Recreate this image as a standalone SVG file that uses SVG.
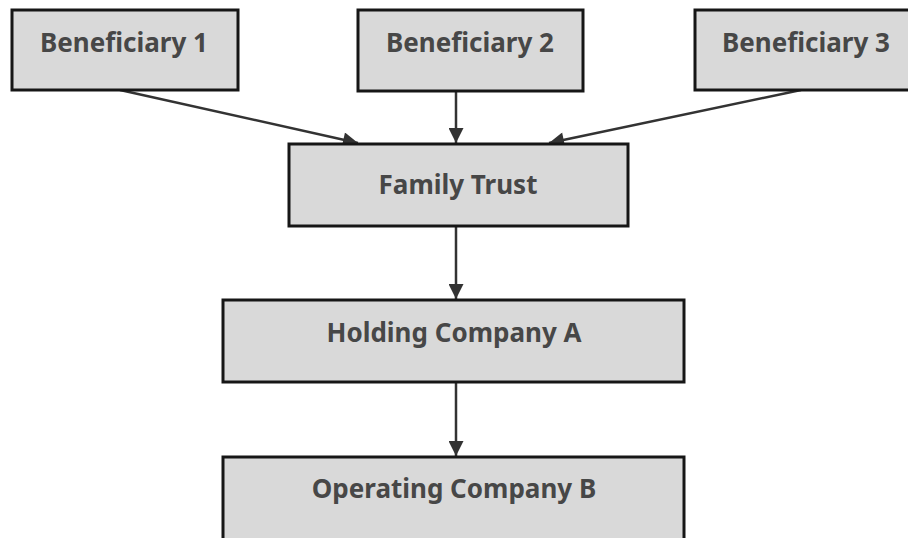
<svg xmlns="http://www.w3.org/2000/svg" width="908" height="538" viewBox="0 0 908 538">
<style>
.box{fill:#d9d9d9;stroke:#161616;stroke-width:3}
.lbl{font-family:"Noto Sans","Open Sans",sans-serif;font-weight:bold;font-size:26px;fill:#474747;text-anchor:middle}
.con{stroke:#333;stroke-width:2.5;fill:none;marker-end:url(#ah)}
</style>
<defs>
<marker id="ah" viewBox="0 0 10 10" refX="10" refY="5" markerWidth="6.5" markerHeight="6" orient="auto" markerUnits="strokeWidth">
<path d="M0,0 L10,5 L0,10 z" fill="#333"/>
</marker>
</defs>
<rect width="908" height="538" fill="#fff"/>
<g id="connectors">
<line class="con" x1="120" y1="90" x2="358" y2="143"/>
<line class="con" x1="456" y1="91" x2="456" y2="143"/>
<line class="con" x1="801" y1="90" x2="549" y2="143"/>
<line class="con" x1="456" y1="226" x2="456" y2="299"/>
<line class="con" x1="456" y1="382" x2="456" y2="456"/>
</g>
<g id="beneficiary1">
<rect class="box" x="12" y="10" width="226" height="80"/>
<text class="lbl" x="124" y="52">Beneficiary 1</text>
</g>
<g id="beneficiary2">
<rect class="box" x="358" y="10" width="225" height="81"/>
<text class="lbl" x="470" y="52">Beneficiary 2</text>
</g>
<g id="beneficiary3">
<rect class="box" x="695" y="10" width="223" height="80"/>
<text class="lbl" x="806" y="52">Beneficiary 3</text>
</g>
<g id="family-trust">
<rect class="box" x="289" y="144" width="339" height="82"/>
<text class="lbl" x="458" y="194">Family Trust</text>
</g>
<g id="holding-company-a">
<rect class="box" x="223" y="300" width="461" height="82"/>
<text class="lbl" x="454" y="342">Holding Company A</text>
</g>
<g id="operating-company-b">
<rect class="box" x="223" y="457" width="461" height="90"/>
<text class="lbl" x="454" y="498">Operating Company B</text>
</g>
</svg>
